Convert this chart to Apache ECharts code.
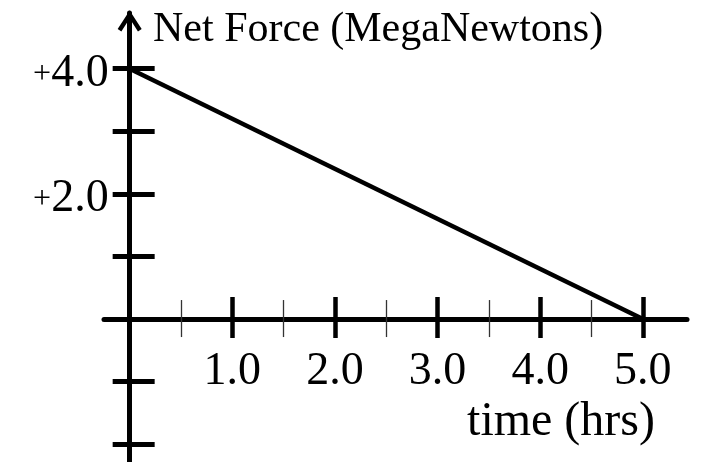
<!DOCTYPE html>
<html>
<head>
<meta charset="utf-8">
<script src="https://cdn.jsdelivr.net/npm/echarts@6/dist/echarts.min.js"></script>
<style>
  html, body { margin: 0; padding: 0; background: #fff; }
  #chart { width: 701px; height: 462px; }
</style>
</head>
<body>
<div id="chart"></div>
<script>
// Net force falling linearly to zero over five hours
const timeHrs = [0, 5];
const netForce = [4, 0];

// Tick positions and labelled values
const xMajorTicks = [1, 2, 3, 4, 5];
const xMinorTicks = [0.5, 1.5, 2.5, 3.5, 4.5];
const xLabelValues = [1, 2, 3, 4, 5];
const yTicks = [-2, -1, 0, 1, 2, 3, 4];
const yLabelValues = [2, 4];

const xTitle = 'time (hrs)';
const yTitle = 'Net Force (MegaNewtons)';

const FONT = '"Liberation Serif", "DejaVu Serif", serif';
const INK = '#000';

const X_MIN = -0.25, X_MAX = 5.43;
const Y_MIN = -2.5, Y_MAX = 4.89;

function xAxisLayer(opts) {
  return {
    type: 'value',
    position: 'bottom',
    min: X_MIN,
    max: X_MAX,
    axisLine: {
      show: opts.line,
      onZero: false,
      lineStyle: { color: INK, width: 5 }
    },
    axisTick: {
      show: true,
      inside: opts.inside,
      length: opts.len,
      customValues: opts.ticks,
      lineStyle: { color: opts.color || INK, width: opts.width }
    },
    axisLabel: opts.labels ? {
      show: true,
      customValues: xLabelValues,
      formatter: v => v.toFixed(1),
      margin: 30,
      color: INK,
      fontFamily: FONT,
      fontSize: 46
    } : { show: false },
    splitLine: { show: false },
    minorTick: { show: false },
    minorSplitLine: { show: false }
  };
}

function yAxisLayer(opts) {
  return {
    type: 'value',
    position: 'left',
    min: Y_MIN,
    max: Y_MAX,
    axisLine: {
      show: opts.line,
      onZero: false,
      symbol: opts.line ? ['none', 'path://M12 0 L24 18.5 L20.3 21 L12 8 L3.7 21 L0 18.5 Z'] : 'none',
      symbolSize: [24, 21],
      symbolOffset: [0, -8],
      lineStyle: { color: INK, width: 5 }
    },
    axisTick: {
      show: true,
      inside: opts.inside,
      length: opts.len,
      customValues: yTicks,
      lineStyle: { color: INK, width: 5 }
    },
    axisLabel: opts.labels ? {
      show: true,
      customValues: yLabelValues,
      formatter: v => '{p|+}{n|' + v.toFixed(1) + '}',
      margin: 21,
      padding: [11, 0, 0, 0],
      color: INK,
      rich: {
        p: { fontFamily: FONT, fontSize: 32, color: INK },
        n: { fontFamily: FONT, fontSize: 46, color: INK }
      }
    } : { show: false },
    splitLine: { show: false },
    minorTick: { show: false },
    minorSplitLine: { show: false }
  };
}

const xLayers = [
  xAxisLayer({ line: true, inside: false, len: 19, ticks: xMajorTicks, width: 4.5, labels: true }),
  xAxisLayer({ line: false, inside: true, len: 22, ticks: xMajorTicks, width: 4.5 }),
  xAxisLayer({ line: false, inside: false, len: 18, ticks: xMinorTicks, width: 1.3, color: '#333' }),
  xAxisLayer({ line: false, inside: true, len: 19, ticks: xMinorTicks, width: 1.3, color: '#333' })
];
const yLayers = [
  yAxisLayer({ line: true, inside: false, len: 17, labels: true }),
  yAxisLayer({ line: false, inside: true, len: 25 })
];

const chart = echarts.init(document.getElementById('chart'), null, { renderer: 'canvas' });

chart.setOption({
  animation: false,
  backgroundColor: '#fff',
  title: [
    {
      text: yTitle,
      left: 153,
      top: 9,
      padding: 0,
      textStyle: { fontFamily: FONT, fontSize: 42, fontWeight: 'normal', color: INK }
    },
    {
      text: xTitle,
      right: 46,
      top: 398,
      padding: 0,
      textStyle: { fontFamily: FONT, fontSize: 48, fontWeight: 'normal', color: INK }
    }
  ],
  grid: {
    left: 104,
    right: 14,
    top: 13,
    bottom: -13.5,
    containLabel: false,
    outerBoundsMode: 'none'
  },
  xAxis: xLayers,
  yAxis: yLayers,
  series: [
    {
      type: 'line',
      xAxisIndex: 0,
      yAxisIndex: 0,
      data: timeHrs.map((t, i) => [t, netForce[i]]),
      showSymbol: false,
      symbol: 'none',
      lineStyle: { color: INK, width: 4.5 },
      z: 1
    }
  ]
});

// Move every axis layer onto the zero line of the other axis (axes cross at the origin)
const zeroX = chart.convertToPixel({ xAxisIndex: 0 }, 0);
const gridLeft = chart.convertToPixel({ xAxisIndex: 0 }, X_MIN);
const zeroY = chart.convertToPixel({ yAxisIndex: 0 }, 0);
const gridBottom = chart.convertToPixel({ yAxisIndex: 0 }, Y_MIN);

chart.setOption({
  xAxis: xLayers.map(() => ({ offset: zeroY - gridBottom })),
  yAxis: yLayers.map(() => ({ offset: gridLeft - zeroX }))
});
</script>
</body>
</html>
